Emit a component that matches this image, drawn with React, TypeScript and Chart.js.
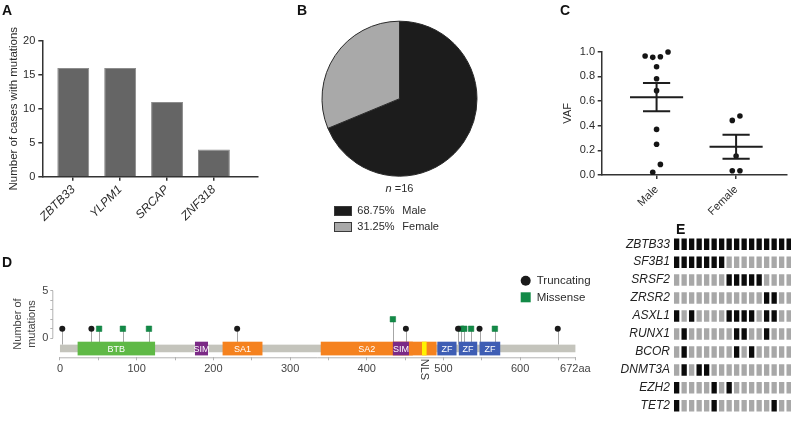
import React, { useEffect, useRef } from 'react';
import { Chart, registerables } from 'chart.js';

Chart.register(...registerables);

const FONT = '"Liberation Sans", Arial, Helvetica, sans-serif';
const INK = '#2b2b2b';
Chart.defaults.font.family = FONT;
Chart.defaults.color = INK;

// ---------------- Panel A ----------------
const genesA = ['ZBTB33', 'YLPM1', 'SRCAP', 'ZNF318'];
const casesA = [16, 16, 11, 4];
const ticksA = [0, 5, 10, 15, 20];

// ---------------- Panel B ----------------
const sexLabels = ['Male', 'Female'];
const sexPct = [68.75, 31.25];
const sexColors = ['#1c1c1c', '#a9a9a9'];
const totalCases = 16;

// ---------------- Panel C ----------------
const vafGroups = ['Male', 'Female'];
const vafMale = [0.965, 0.954, 0.959, 0.997, 0.878, 0.781, 0.684, 0.37, 0.249, 0.022, 0.086];
const vafFemale = [0.443, 0.478, 0.154, 0.035, 0.035];
const ticksC = [0, 0.2, 0.4, 0.6, 0.8, 1.0];

// ---------------- Panel D ----------------
const proteinLen = 672;
const domainNames = ['BTB', 'SIM', 'SA1', 'SA2', '', 'SIM', 'NLS', 'ZF', 'ZF', 'ZF'];
const domainStart = [23, 176, 212, 340, 455, 434, 472, 492, 520, 547];
const domainEnd = [124, 193, 264, 460, 491, 455, 478, 517, 544, 574];
const domainColors = ['#5fb946', '#7b2a86', '#f5821f', '#f5821f', '#f5821f', '#7b2a86', '#fff200', '#3e5db4', '#3e5db4', '#3e5db4'];
const truncPos = [3, 41, 231, 451, 519, 547, 649];
const truncCount = [1, 1, 1, 1, 1, 1, 1];
const missPos = [51, 82, 116, 434, 523, 527, 536, 567];
const missCount = [1, 1, 1, 2, 1, 1, 1, 1];
const ticksDx = [0, 50, 100, 150, 200, 250, 300, 350, 400, 450, 500, 550, 600, 650, 672];
const ticksDy = [0, 1, 2, 3, 4, 5];
const mutLabels = ['Truncating', 'Missense'];

// ---------------- Panel E ----------------
const heatGenes = ['ZBTB33', 'SF3B1', 'SRSF2', 'ZRSR2', 'ASXL1', 'RUNX1', 'BCOR', 'DNMT3A', 'EZH2', 'TET2'];
const heatRows = [
  '1111111111111111',
  '1111111000000000',
  '0000000111110000',
  '0000000000001100',
  '1010000111101100',
  '0100000011001000',
  '0100000010100000',
  '0101100000000000',
  '1000010100000000',
  '1000010000000100',
];

// ---------------- helpers ----------------
const AX = '#333333';
const tickGrid = (color: string, lw: number, len: number) => ({
  display: true, drawOnChartArea: false, drawTicks: true, tickLength: len, color, lineWidth: lw, offset: false,
});
const setTicks = (vals: number[]) => (s: any) => { s.ticks = vals.map((v) => ({ value: v })); };

// ---------------- A config ----------------
function makeA() {
  return {
    type: 'bar',
    data: {
      datasets: [{
        data: genesA.map((g, i) => ({ x: i, y: casesA[i] })),
        backgroundColor: '#656565', borderColor: '#8d8d8d', borderWidth: 1,
        barPercentage: 0.68, categoryPercentage: 1,
      }],
    },
    options: {
      responsive: false, animation: false, events: [],
      layout: { padding: { top: 40.7, right: 12, left: 0, bottom: 0 } },
      plugins: { legend: { display: false }, tooltip: { enabled: false } },
      scales: {
        x: {
          type: 'linear', min: -0.66, max: 3.94, offset: false,
          afterBuildTicks: setTicks(genesA.map((g, i) => i)),
          afterFit: (s: any) => { s.height = 48.3; },
          ticks: { autoSkip: false, minRotation: 45, maxRotation: 45, padding: 2, color: INK,
            font: { size: 12, style: 'italic' }, callback: (v: number) => genesA[v] },
          grid: tickGrid(AX, 1.5, 4), border: { color: AX, width: 1.5 },
        },
        y: {
          min: 0, max: 20,
          afterBuildTicks: setTicks(ticksA),
          afterFit: (s: any) => { s.width = 42.3; },
          ticks: { padding: 3, color: INK, font: { size: 11 } },
          grid: tickGrid(AX, 1.5, 4), border: { color: AX, width: 1.5 },
          title: { display: true, text: 'Number of cases with mutations', color: INK,
            font: { size: 11.5 }, padding: { top: 7.2, bottom: 0 } },
        },
      },
    },
  };
}

// ---------------- B config ----------------
const pieLegendPlugin = {
  id: 'pieLegend',
  afterDraw(chart: any) {
    const { ctx, chartArea } = chart;
    const cx = (chartArea.left + chartArea.right) / 2;
    ctx.save();
    ctx.textBaseline = 'middle';
    ctx.textAlign = 'left';
    ctx.fillStyle = INK;
    const ny = chartArea.bottom + 12.3;
    const rest = ' =' + totalCases;
    ctx.font = `italic 11px ${FONT}`;
    const wn = ctx.measureText('n').width;
    ctx.font = `11px ${FONT}`;
    const wr = ctx.measureText(rest).width;
    const sx = cx - (wn + wr) / 2;
    ctx.font = `italic 11px ${FONT}`;
    ctx.fillText('n', sx, ny);
    ctx.font = `11px ${FONT}`;
    ctx.fillText(rest, sx + wn, ny);
    sexLabels.forEach((lab, i) => {
      const by = chartArea.bottom + 34.3 + i * 16;
      const bx = chartArea.left + 12.5;
      ctx.fillStyle = sexColors[i];
      ctx.fillRect(bx, by - 5, 18, 10);
      ctx.strokeStyle = '#3a3a3a';
      ctx.lineWidth = 1;
      ctx.strokeRect(bx + 0.5, by - 4.5, 17, 9);
      ctx.fillStyle = INK;
      ctx.font = `11px ${FONT}`;
      ctx.fillText(`${sexPct[i].toFixed(2)}%`, bx + 23.3, by);
      ctx.fillText(lab, bx + 68.3, by);
    });
    ctx.restore();
  },
};

function makeB() {
  return {
    type: 'pie',
    data: {
      labels: sexLabels,
      datasets: [{ data: sexPct, backgroundColor: sexColors, borderColor: '#2a2a2a', borderWidth: 1 }],
    },
    options: {
      responsive: false, animation: false, events: [],
      layout: { padding: { left: 21.5, right: 22.5, top: 20.7, bottom: 63.3 } },
      plugins: { legend: { display: false }, tooltip: { enabled: false } },
    },
    plugins: [pieLegendPlugin],
  };
}

// ---------------- C config ----------------
const BIN = 0.1;
const SPREAD = 0.096;
function swarm(vals: number[], center: number) {
  const bins: Record<string, number[]> = {};
  vals.forEach((v, i) => {
    const b = String(Math.floor(v / BIN));
    if (!bins[b]) bins[b] = [];
    bins[b].push(i);
  });
  const out = vals.map((v) => ({ x: center, y: v }));
  Object.keys(bins).forEach((k) => {
    const idx = bins[k];
    idx.forEach((i, j) => { out[i].x = center + (j - (idx.length - 1) / 2) * SPREAD; });
  });
  return out;
}

const semPlugin = {
  id: 'sem',
  afterDatasetsDraw(chart: any) {
    const { ctx, scales } = chart;
    const x = scales.x, y = scales.y;
    ctx.save();
    ctx.strokeStyle = '#1e1e1e';
    ctx.lineWidth = 2;
    [vafMale, vafFemale].forEach((vals, gi) => {
      const n = vals.length;
      const mean = vals.reduce((a, b) => a + b, 0) / n;
      const sd = Math.sqrt(vals.reduce((a, b) => a + (b - mean) * (b - mean), 0) / (n - 1));
      const sem = sd / Math.sqrt(n);
      const cx = x.getPixelForValue(gi);
      const mw = x.getPixelForValue(gi + 0.334) - cx;
      const cw = x.getPixelForValue(gi + 0.171) - cx;
      const ym = y.getPixelForValue(mean);
      const yu = y.getPixelForValue(mean + sem);
      const yl = y.getPixelForValue(mean - sem);
      ctx.beginPath();
      ctx.moveTo(cx - mw, ym); ctx.lineTo(cx + mw, ym);
      ctx.moveTo(cx - cw, yu); ctx.lineTo(cx + cw, yu);
      ctx.moveTo(cx - cw, yl); ctx.lineTo(cx + cw, yl);
      ctx.moveTo(cx, yu); ctx.lineTo(cx, yl);
      ctx.stroke();
    });
    ctx.restore();
  },
};

function makeC() {
  return {
    type: 'scatter',
    data: {
      datasets: [
        { label: 'Male', data: swarm(vafMale, 0), backgroundColor: '#151515', borderWidth: 0, pointRadius: 2.8, clip: false },
        { label: 'Female', data: swarm(vafFemale, 1), backgroundColor: '#151515', borderWidth: 0, pointRadius: 2.8, clip: false },
      ],
    },
    options: {
      responsive: false, animation: false, events: [],
      layout: { padding: { top: 51.7, right: 3, left: 0, bottom: 0 } },
      plugins: { legend: { display: false }, tooltip: { enabled: false } },
      scales: {
        x: {
          type: 'linear', min: -0.69, max: 1.64, offset: false,
          afterBuildTicks: setTicks(vafGroups.map((g, i) => i)),
          afterFit: (s: any) => { s.height = 50; },
          ticks: { autoSkip: false, minRotation: 45, maxRotation: 45, padding: 4, color: INK,
            font: { size: 11 }, callback: (v: number) => vafGroups[v] },
          grid: tickGrid(AX, 1.5, 4), border: { color: AX, width: 1.5 },
        },
        y: {
          min: 0, max: 1,
          afterBuildTicks: setTicks(ticksC),
          afterFit: (s: any) => { s.width = 91.7; },
          ticks: { padding: 2.7, color: INK, font: { size: 11 }, callback: (v: number) => v.toFixed(1) },
          grid: tickGrid(AX, 1.5, 4), border: { color: AX, width: 1.5 },
          title: { display: true, text: 'VAF', color: INK, font: { size: 11 }, padding: { top: 51.4, bottom: 0 } },
        },
      },
    },
    plugins: [semPlugin],
  };
}

// ---------------- D config ----------------
const LOLLI_AXIS = '#b3b3b3';
const BACKBONE = '#c4c4bc';
const BB_TOP = -0.67, BB_BOT = -1.47, DOM_TOP = -0.36, DOM_BOT = -1.8;

const proteinPlugin = {
  id: 'protein',
  beforeDatasetsDraw(chart: any) {
    const { ctx, scales, chartArea } = chart;
    const x = scales.x, y = scales.y;
    ctx.save();
    ctx.strokeStyle = LOLLI_AXIS;
    ctx.lineWidth = 1;
    ctx.beginPath();
    ctx.moveTo(x.getPixelForValue(0), chartArea.bottom + 0.5);
    ctx.lineTo(x.getPixelForValue(proteinLen), chartArea.bottom + 0.5);
    ctx.moveTo(chartArea.left - 0.5, y.getPixelForValue(0));
    ctx.lineTo(chartArea.left - 0.5, y.getPixelForValue(5));
    ctx.stroke();
    ctx.strokeStyle = '#a6a6a6';
    ctx.beginPath();
    chart.data.datasets.forEach((ds: any) => {
      ds.data.forEach((p: any) => {
        const px = Math.round(x.getPixelForValue(p.x)) + 0.5;
        ctx.moveTo(px, y.getPixelForValue(BB_TOP));
        ctx.lineTo(px, y.getPixelForValue(p.y));
      });
    });
    ctx.stroke();
    const x0 = x.getPixelForValue(0), x1 = x.getPixelForValue(proteinLen);
    ctx.fillStyle = BACKBONE;
    ctx.fillRect(x0, y.getPixelForValue(BB_TOP), x1 - x0, y.getPixelForValue(BB_BOT) - y.getPixelForValue(BB_TOP));
    const dt = y.getPixelForValue(DOM_TOP), db = y.getPixelForValue(DOM_BOT);
    domainNames.forEach((name, i) => {
      const a = x.getPixelForValue(domainStart[i]), b = x.getPixelForValue(domainEnd[i]);
      ctx.fillStyle = domainColors[i];
      ctx.fillRect(a, dt, b - a, db - dt);
    });
    ctx.textBaseline = 'middle';
    domainNames.forEach((name, i) => {
      if (!name) return;
      const a = x.getPixelForValue(domainStart[i]), b = x.getPixelForValue(domainEnd[i]);
      const cx = (a + b) / 2;
      if (b - a < 12) {
        ctx.save();
        ctx.fillStyle = '#333';
        ctx.font = `11px ${FONT}`;
        ctx.translate(cx, chartArea.bottom + 1.5);
        ctx.rotate(Math.PI / 2);
        ctx.textAlign = 'left';
        ctx.fillText(name, 0, 0);
        ctx.restore();
      } else {
        ctx.fillStyle = '#ffffff';
        ctx.font = `9px ${FONT}`;
        ctx.textAlign = 'center';
        ctx.fillText(name, cx, (dt + db) / 2 + 0.5);
      }
    });
    ctx.restore();
  },
  afterDraw(chart: any) {
    const { ctx, chartArea } = chart;
    ctx.save();
    const mx = chartArea.right - 49.7;
    const rows = [chartArea.top - 10, chartArea.top + 6.6];
    chart.data.datasets.forEach((ds: any, i: number) => {
      const yy = rows[i];
      ctx.fillStyle = ds.backgroundColor;
      if (ds.pointStyle === 'rect') {
        ctx.fillRect(mx - 5, yy - 5, 10, 10);
      } else {
        ctx.beginPath();
        ctx.arc(mx, yy, 5, 0, Math.PI * 2);
        ctx.fill();
      }
      ctx.fillStyle = INK;
      ctx.font = `11.5px ${FONT}`;
      ctx.textAlign = 'left';
      ctx.textBaseline = 'middle';
      ctx.fillText(ds.label, mx + 11, yy + 0.5);
    });
    ctx.restore();
  },
};

function makeD() {
  return {
    type: 'scatter',
    data: {
      datasets: [
        { label: mutLabels[0], data: truncPos.map((p, i) => ({ x: p, y: truncCount[i] })),
          pointStyle: 'circle', pointRadius: 3, backgroundColor: '#1a1a1a', borderWidth: 0, clip: false },
        { label: mutLabels[1], data: missPos.map((p, i) => ({ x: p, y: missCount[i] })),
          pointStyle: 'rect', pointRadius: 3.9, backgroundColor: '#128a47', borderColor: '#0f7a3d', borderWidth: 0.5, clip: false },
      ],
    },
    options: {
      responsive: false, animation: false, events: [],
      layout: { padding: { top: 35.7, right: 34.6, left: 0, bottom: 0 } },
      plugins: { legend: { display: false }, tooltip: { enabled: false } },
      scales: {
        x: {
          type: 'linear', min: -8.7, max: proteinLen, offset: false,
          afterBuildTicks: setTicks(ticksDx),
          afterFit: (s: any) => { s.height = 32.7; },
          ticks: { autoSkip: false, minRotation: 0, maxRotation: 0, padding: 2, color: '#444', font: { size: 11 },
            callback: (v: number) => (v === proteinLen ? `${v}aa` : v % 100 === 0 ? String(v) : '') },
          grid: tickGrid(LOLLI_AXIS, 1, 3), border: { display: false },
        },
        y: {
          min: -2, max: 5,
          afterBuildTicks: setTicks(ticksDy),
          afterFit: (s: any) => { s.width = 53.3; },
          ticks: { autoSkip: false, padding: 2, color: '#444', font: { size: 11 },
            callback: (v: number) => (v === 0 || v === 5 ? String(v) : '') },
          grid: tickGrid(LOLLI_AXIS, 1, 3), border: { display: false },
          title: { display: true, text: ['Number of', 'mutations'], color: '#444', font: { size: 11 },
            padding: { top: 11.7, bottom: 0 } },
        },
      },
    },
    plugins: [proteinPlugin],
  };
}

// ---------------- E config ----------------
const CELL_INSET = 0.146;
function makeE() {
  const nCols = heatRows[0].length;
  const datasets = [] as any[];
  for (let c = 0; c < nCols; c++) {
    datasets.push({
      data: heatGenes.map(() => [c + CELL_INSET, c + 1 - CELL_INSET]),
      backgroundColor: heatGenes.map((g, r) => (heatRows[r][c] === '1' ? '#0b0b0b' : '#a8a8a8')),
      borderWidth: 0, grouped: false, barPercentage: 0.64, categoryPercentage: 1,
    });
  }
  return {
    type: 'bar',
    data: { labels: heatGenes, datasets },
    options: {
      indexAxis: 'y',
      responsive: false, animation: false, events: [],
      layout: { padding: { top: 10.1, right: 7.1, left: 0, bottom: 1.1 } },
      plugins: { legend: { display: false }, tooltip: { enabled: false } },
      scales: {
        x: { type: 'linear', min: 0, max: nCols, display: false, offset: false },
        y: {
          type: 'category',
          afterFit: (s: any) => { s.width = 72.9; },
          grid: { display: false, drawTicks: false }, border: { display: false },
          ticks: { padding: 3, color: '#222', font: { size: 12, style: 'italic' } },
        },
      },
    },
  };
}

// ---------------- components ----------------
function ChartCanvas({ x, y, w, h, make }: { x: number; y: number; w: number; h: number; make: () => any }) {
  const ref = useRef<HTMLCanvasElement | null>(null);
  useEffect(() => {
    if (!ref.current) return;
    const chart = new Chart(ref.current, make());
    return () => chart.destroy();
  }, [make]);
  return (
    <canvas ref={ref} width={w} height={h}
      style={{ position: 'absolute', left: x, top: y, width: w, height: h, display: 'block' }} />
  );
}

function Letter({ t, x, y }: { t: string; x: number; y: number }) {
  return (
    <div style={{ position: 'absolute', left: x, top: y, font: `bold 14px ${FONT}`, lineHeight: '14px', color: '#111' }}>{t}</div>
  );
}

export default function App() {
  return (
    <div style={{ position: 'fixed', left: 0, top: 0, width: 791, height: 422, overflow: 'hidden', background: '#fff' }}>
      <ChartCanvas x={0} y={0} w={270} h={225} make={makeA} />
      <ChartCanvas x={300} y={0} w={200} h={240} make={makeB} />
      <ChartCanvas x={510} y={0} w={281} h={225} make={makeC} />
      <ChartCanvas x={0} y={255} w={610} h={135} make={makeD} />
      <ChartCanvas x={600} y={225} w={200} h={200} make={makeE} />
      <Letter t="A" x={2} y={3} />
      <Letter t="B" x={297} y={2.5} />
      <Letter t="C" x={560} y={3} />
      <Letter t="D" x={2} y={255} />
      <Letter t="E" x={676} y={222} />
    </div>
  );
}
